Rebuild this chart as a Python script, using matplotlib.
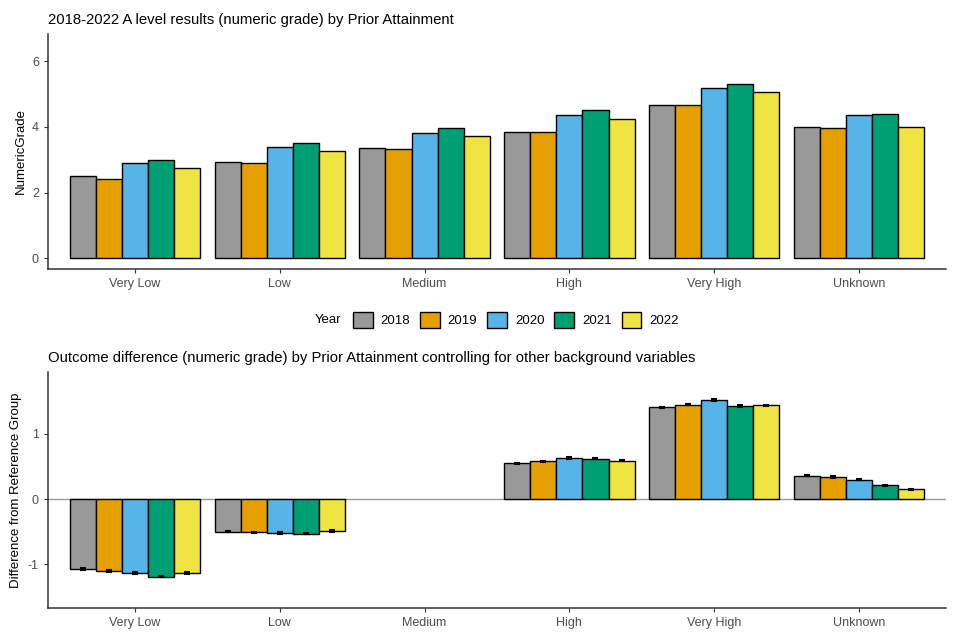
import numpy as np
import matplotlib
matplotlib.use("Agg")
import matplotlib.pyplot as plt
from matplotlib.patches import Patch
from matplotlib.offsetbox import HPacker

plt.rcParams['font.family'] = ['Liberation Sans', 'DejaVu Sans']
plt.rcParams['axes.unicode_minus'] = False

categories = ['Very Low', 'Low', 'Medium', 'High', 'Very High', 'Unknown']
years = ['2018', '2019', '2020', '2021', '2022']
colours = ['#999999', '#E69F00', '#56B4E9', '#009E73', '#F0E442']

# top panel: numeric grade by year, one list per year across categories
grade_2018 = [2.49, 2.94, 3.36, 3.83, 4.66, 4.00]
grade_2019 = [2.42, 2.90, 3.33, 3.83, 4.68, 3.95]
grade_2020 = [2.91, 3.39, 3.81, 4.35, 5.19, 4.35]
grade_2021 = [2.99, 3.51, 3.96, 4.52, 5.30, 4.40]
grade_2022 = [2.74, 3.27, 3.71, 4.24, 5.06, 4.00]

# bottom panel: difference from reference group (Medium is the reference)
diff_2018 = [-1.07, -0.50, np.nan, 0.55, 1.41, 0.36]
diff_2019 = [-1.10, -0.51, np.nan, 0.58, 1.45, 0.34]
diff_2020 = [-1.13, -0.52, np.nan, 0.63, 1.52, 0.30]
diff_2021 = [-1.19, -0.53, np.nan, 0.62, 1.43, 0.21]
diff_2022 = [-1.13, -0.49, np.nan, 0.59, 1.44, 0.15]
diff_err = [0.012, 0.010, 0.0, 0.010, 0.010, 0.012]

grades = [grade_2018, grade_2019, grade_2020, grade_2021, grade_2022]
diffs = [diff_2018, diff_2019, diff_2020, diff_2021, diff_2022]

fig = plt.figure(figsize=(9.6, 6.4), dpi=100)
ax1 = fig.add_axes([48/960, 1-269/640, 898/960, 235/640])
ax2 = fig.add_axes([48/960, 1-608/640, 898/960, 236/640])

x = np.arange(1, len(categories)+1)
w = 0.18
tick_col = '#4d4d4d'

def style(ax):
    for s in ['top', 'right']:
        ax.spines[s].set_visible(False)
    for s in ['left', 'bottom']:
        ax.spines[s].set_color('#333333')
        ax.spines[s].set_linewidth(1.1)
    ax.set_xticks(x)
    ax.set_xticklabels(categories)
    ax.tick_params(colors='#333333', labelcolor=tick_col, labelsize=9, length=3)
    ax.set_xlim(0.4, 6.6)

for i, vals in enumerate(grades):
    ax1.bar(x + (i-2)*w, vals, w, color=colours[i], edgecolor='black', linewidth=1)
style(ax1)
ax1.set_ylim(-0.325, 6.825)
ax1.set_yticks([0, 2, 4, 6])
ax1.set_ylabel('NumericGrade', fontsize=9.5)
ax1.set_title('2018-2022 A level results (numeric grade) by Prior Attainment', loc='left',
              fontsize=10.7, x=0, pad=7)

ax2.axhline(0, color='#999999', linewidth=1, zorder=0)
for i, vals in enumerate(diffs):
    vals = np.array(vals)
    ok = ~np.isnan(vals)
    pos = x + (i-2)*w
    ax2.bar(pos[ok], vals[ok], w, color=colours[i], edgecolor='black', linewidth=1)
    ax2.errorbar(pos[ok], vals[ok], yerr=np.array(diff_err)[ok], fmt='none',
                 ecolor='black', elinewidth=2, capsize=2.5, capthick=1.5)
style(ax2)
ax2.set_ylim(-1.67, 1.95)
ax2.set_yticks([-1, 0, 1])
ax2.set_ylabel('Difference from Reference Group', fontsize=9.5)
ax2.set_title('Outcome difference (numeric grade) by Prior Attainment controlling for other background variables',
              loc='left', fontsize=10.7, x=0, pad=7)

handles = [Patch(facecolor=c, edgecolor='black', linewidth=1) for c in colours]
leg = fig.legend(handles, years, title='Year', loc='center', bbox_to_anchor=(497/960, 1-320/640),
                 ncol=5, frameon=False, fontsize=9.5, title_fontsize=9.5, handlelength=1.5,
                 handleheight=1.5, columnspacing=0.75, handletextpad=0.6)
# put title to the left of entries
box = leg._legend_box
box._children = [HPacker(children=list(box.get_children()), align='center', pad=0, sep=8)]

fig.savefig('out.png', dpi=100)
